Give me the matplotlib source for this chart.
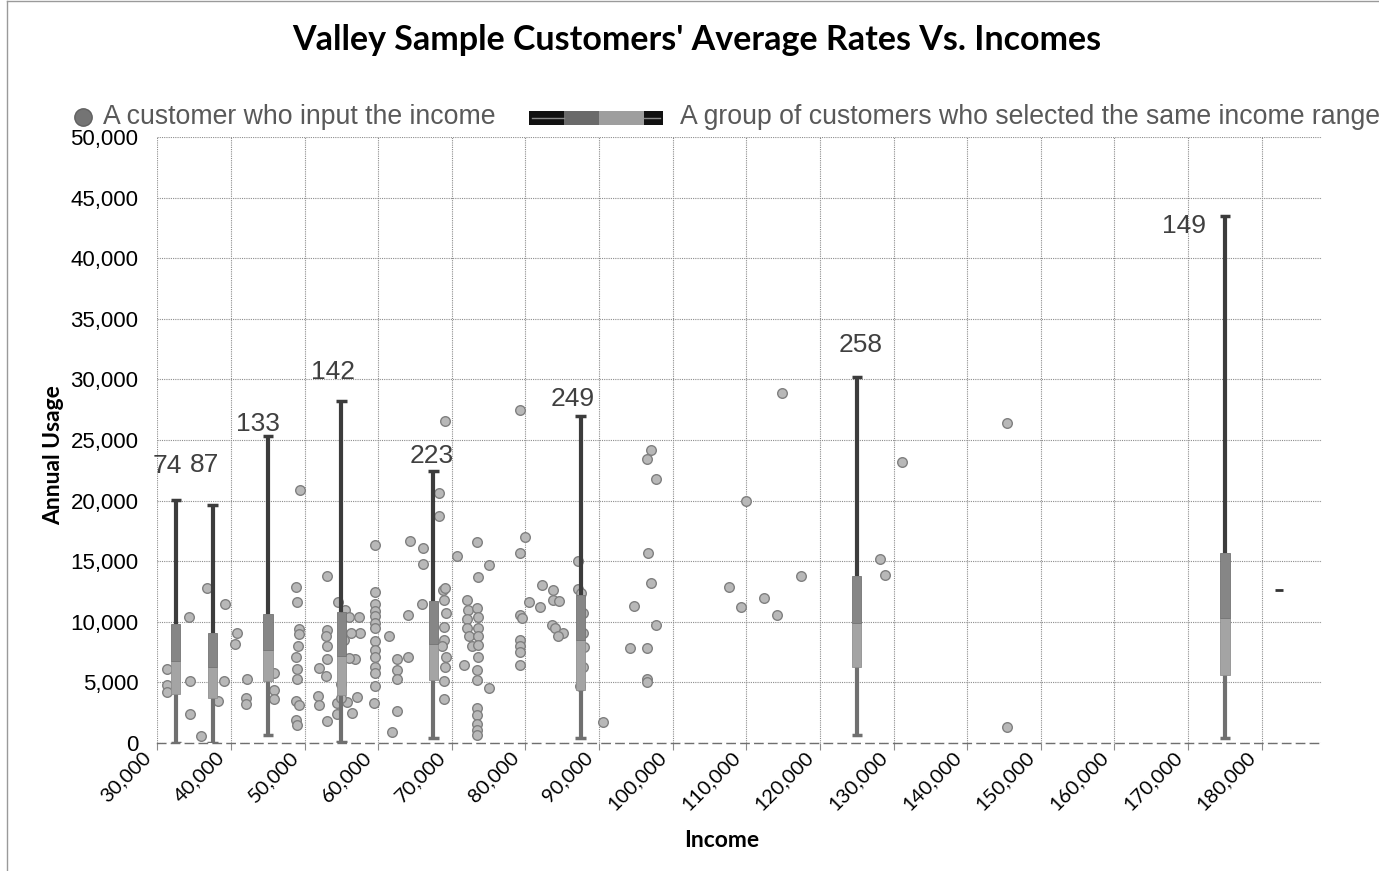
import matplotlib
matplotlib.use('Agg')
import matplotlib.pyplot as plt
from matplotlib.lines import Line2D
from matplotlib.patches import Rectangle
from matplotlib.ticker import FuncFormatter, MultipleLocator
from matplotlib.transforms import ScaledTranslation
import numpy as np

# individual customers who typed in their income
cust_income = [
    31300, 31300, 31300, 34300, 34500, 34500, 35900,
    36700, 39200, 38300, 39000, 40800, 40600, 42200, 42000, 42000,
    45900, 45800, 45900,
    49400, 48900, 49000, 49300, 49200, 49100, 48900, 49000, 49000, 48900, 49300, 48900, 49000,
    53000, 53000, 52900, 53000, 53000, 52900, 51900, 51800, 51900, 53000, 54500, 54400, 54400,
    56900, 57100, 57400, 57600, 55500, 56000, 56300, 55300, 56000, 55000, 55800, 55000, 56500,
    59600, 59600, 59600, 59600, 59600, 59600, 59600, 59600, 59600, 59600, 59600, 59600, 59600, 59500,
    61500, 62600, 62600, 62600, 64000, 62600, 61900, 64300, 64000, 66100,
    66100, 65900, 68200, 68200, 69100, 70700,
    68800, 69100, 69000, 69200, 68900, 69000, 68700, 69200, 69100, 69000, 68900,
    72000, 72200, 72000, 72000, 72300, 72700, 73400, 73500, 73500, 73500, 73500, 73600,
    73400, 73400, 73400, 73400, 73400, 73400, 73400, 71700, 73400, 73500, 75000, 75000,
    79200, 79900, 79300, 79300, 79500, 79300, 79300, 79300, 79300, 80500, 82000, 82200,
    83700, 83800, 84500, 83600, 84000, 85100, 84400,
    87200, 87200, 87600, 87800, 87800, 88000, 87800, 87400,
    90600, 97100, 96500, 97800, 96700, 97100, 94800, 97700, 94200, 96500, 96500, 96500,
    107700, 109300, 110000, 112400, 114200, 114900, 117500,
    128200, 128900, 131100,
    145400, 145400,
]
cust_usage = [
    6100, 4800, 4200, 10400, 5100, 2400, 600,
    12800, 11500, 3500, 5100, 9100, 8200, 5300, 3700, 3200,
    5800, 4400, 3600,
    20900, 12900, 11600, 9400, 9000, 8000, 7100, 6100, 5300, 3500, 3100, 1900, 1500,
    13800, 9300, 8800, 8000, 6900, 5500, 6200, 3900, 3100, 1800, 11600, 3300, 2400,
    6900, 3800, 10400, 9100, 11000, 10400, 9100, 8500, 7000, 4900, 3400, 3700, 2500,
    16300, 12500, 11500, 10900, 10500, 9900, 9500, 8400, 7700, 7100, 6300, 5800, 4700, 3300,
    8800, 6900, 6000, 5300, 7100, 2600, 900, 16700, 10600, 16100,
    14800, 11500, 20600, 18700, 26600, 15400,
    12600, 12800, 11800, 10700, 9600, 8500, 8000, 7100, 6300, 5100, 3600,
    11800, 11000, 10200, 9500, 8800, 8000, 11100, 10400, 9500, 8800, 8100, 7100,
    6000, 5200, 2900, 2300, 1600, 1100, 700, 6400, 16600, 13700, 14700, 4500,
    27500, 17000, 15700, 10600, 10300, 8500, 8000, 7500, 6400, 11600, 11200, 13000,
    12600, 11800, 11700, 9700, 9500, 9100, 8800,
    15000, 12700, 12400, 10700, 9100, 7900, 6300, 4700,
    1700, 24200, 23400, 21800, 15700, 13200, 11300, 9700, 7800, 7800, 5300, 5000,
    12900, 11200, 20000, 12000, 10600, 28900, 13800,
    15200, 13900, 23200,
    26400, 1300,
]

# customers who picked an income range: one box per range
group_income = [32500, 37500, 45000, 55000, 67500, 87500, 125000, 175000]
group_count = [74, 87, 133, 142, 223, 249, 258, 149]
group_min = [0, 0, 700, 100, 450, 450, 650, 450]
group_q1 = [4050, 3750, 5150, 3950, 5200, 4400, 6250, 5650]
group_median = [6800, 6300, 7700, 7200, 8200, 8500, 9900, 10300]
group_q3 = [9800, 9050, 10650, 10800, 11750, 12200, 13800, 15650]
group_max = [20050, 19600, 25350, 28250, 22450, 27000, 30200, 43500]

# lone range with a single value, drawn as a dash
lone_income = [182400]
lone_usage = [12650]

# where each count label sits relative to the top of its whisker (pixels)
label_offset = [(-8, 34), (-8, 40), (-10, 12), (-8, 29), (-2, 15), (-8, 17), (4, 32), (-41, -10)]

W, H = 1379, 871
fig = plt.figure(figsize=(W / 100, H / 100), dpi=100)
ax = fig.add_axes([157.3 / W, 1 - 743 / H, (1322 - 157.3) / W, (743 - 137) / H])
ax.set_xlim(30000, 188200)
ax.set_ylim(0, 50000)

ax.xaxis.set_major_locator(MultipleLocator(10000))
ax.yaxis.set_major_locator(MultipleLocator(5000))
ax.grid(True, color='#8c8c8c', linestyle=(0, (1, 1)), linewidth=0.8)
ax.set_axisbelow(True)
for s in ['top', 'right', 'left']:
    ax.spines[s].set_visible(False)
ax.spines['bottom'].set_color('#6f6f6f')
ax.spines['bottom'].set_linestyle((0, (6, 4)))
ax.spines['bottom'].set_linewidth(1.0)

# customer dots
ax.scatter(cust_income, cust_usage, s=48, facecolor='#b8b8b8', edgecolor='#808080',
           linewidth=1.0, zorder=3)

# range boxes: lower whisker, two halves of the box, upper whisker
bw = 1300
for i, xc in enumerate(group_income):
    ax.vlines(xc, group_min[i], group_q1[i], color='#707070', linewidth=3, zorder=4)
    ax.vlines(xc, group_q3[i], group_max[i], color='#3c3c3c', linewidth=3, zorder=4)
    ax.hlines([group_min[i]], xc - 700, xc + 700, color='#707070', linewidth=2.5, zorder=4)
    ax.hlines([group_max[i]], xc - 700, xc + 700, color='#3c3c3c', linewidth=2.5, zorder=4)
    ax.bar(xc, group_median[i] - group_q1[i], bottom=group_q1[i], width=bw,
           color='#a4a4a4', edgecolor='#909090', linewidth=0.6, zorder=5)
    ax.bar(xc, group_q3[i] - group_median[i], bottom=group_median[i], width=bw,
           color='#868686', edgecolor='#747474', linewidth=0.6, zorder=5)
    dx, dy = label_offset[i]
    ax.annotate(str(group_count[i]), (xc, group_max[i]), xytext=(dx, dy),
                textcoords='offset pixels', ha='center', va='center',
                fontsize=19, family='Liberation Sans', color='#404040', zorder=6)

ax.scatter(lone_income, lone_usage, marker='_', s=40, color='#333333', linewidth=2, zorder=4)

ax.xaxis.set_major_formatter(FuncFormatter(lambda v, p: f'{int(v):,}'))
ax.yaxis.set_major_formatter(FuncFormatter(lambda v, p: f'{int(v):,}'))
ax.set_xticks(np.arange(30000, 180001, 10000))
ax.tick_params(axis='x', length=5, color='#8c8c8c', pad=2)
ax.tick_params(axis='y', length=0, pad=13.5)
shift = ScaledTranslation(-9 / 100, -2 / 100, fig.dpi_scale_trans)
for lab in ax.get_xticklabels():
    lab.set_rotation(45)
    lab.set_ha('right')
    lab.set_va('center')
    lab.set_rotation_mode('anchor')
    lab.set_fontsize(14.5)
    lab.set_family('Lato')
    lab.set_transform(lab.get_transform() + shift)
for lab in ax.get_yticklabels():
    lab.set_fontsize(16)
    lab.set_family('Liberation Sans')

ax.set_xlabel('Income', fontsize=16.5, fontweight='bold', family='Lato', labelpad=0)
ax.xaxis.set_label_coords((722 - 157.3) / (1322 - 157.3), -(830 - 743) / (743 - 137))
ax.set_ylabel('Annual Usage', fontsize=16.5, fontweight='bold', family='Lato')
ax.yaxis.set_label_coords(-(157.3 - 64) / (1322 - 157.3), (743 - 455) / (743 - 137))

# title and legend row
fig.text(697 / W, 1 - 40 / H, "Valley Sample Customers' Average Rates Vs. Incomes",
         ha='center', va='center', fontsize=24.5, fontweight='bold', family='Lato')
fig.add_artist(Line2D([83 / W], [1 - 117 / H], marker='o', markersize=12.5,
                      color='#747474', markeredgecolor='#606060'))
fig.text(103 / W, 1 - 117 / H, 'A customer who input the income', ha='left', va='center',
         fontsize=19.2, family='Liberation Sans', color='#595959')
# legend swatch for the range boxes
ly0, lh = 1 - 125 / H, 14 / H
fig.add_artist(Rectangle((529 / W, ly0), 134 / W, lh, transform=fig.transFigure,
                         facecolor='#111111', edgecolor='none'))
fig.add_artist(Rectangle((564 / W, ly0), 35 / W, lh, transform=fig.transFigure,
                         facecolor='#6a6a6a', edgecolor='none'))
fig.add_artist(Rectangle((599 / W, ly0), 45 / W, lh, transform=fig.transFigure,
                         facecolor='#9e9e9e', edgecolor='none'))
fig.add_artist(Line2D([532 / W, 564 / W], [1 - 118 / H] * 2, color='#8a8a8a', linewidth=1))
fig.add_artist(Line2D([644 / W, 660 / W], [1 - 118 / H] * 2, color='#8a8a8a', linewidth=1))
fig.text(680 / W, 1 - 117 / H, 'A group of customers who selected the same income range',
         ha='left', va='center', fontsize=19.2, family='Liberation Sans', color='#595959')

# chart frame
fig.add_artist(Line2D([7 / W, 7 / W], [0, 1 - 1 / H], color='#9a9a9a', linewidth=1))
fig.add_artist(Line2D([7 / W, 1], [1 - 1 / H, 1 - 1 / H], color='#9a9a9a', linewidth=1))

fig.savefig('out.png', dpi=100)
